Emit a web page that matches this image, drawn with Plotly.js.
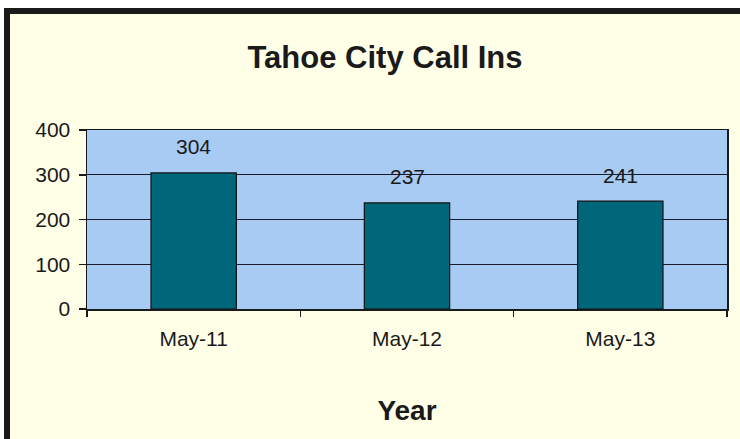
<!DOCTYPE html>
<html>
<head>
<meta charset="utf-8">
<script src="https://cdn.plot.ly/plotly-3.0.1.min.js"></script>
<style>
  html, body { margin: 0; padding: 0; background: #ffffff; overflow: hidden; }
  #frame {
    position: absolute; left: 4px; top: 8px; width: 740px; height: 428px;
    background: #FFFFE8;
    border-left: 6px solid #1a1a1a; border-top: 6px solid #1a1a1a; border-bottom: 3px solid #1a1a1a;
  }
  #chart { position: absolute; left: 0; top: 0; width: 740px; height: 439px; }
</style>
</head>
<body>
<div id="frame"></div>
<div id="chart"></div>
<script>
const categories = ["May-11", "May-12", "May-13"];
const callIns = [304, 237, 241];
const yTicks = [0, 100, 200, 300, 400];

const FONT = "Liberation Sans, Arial, sans-serif";

const trace = {
  type: "bar",
  x: categories,
  y: callIns,
  width: 0.4,
  marker: { color: "#00667A", line: { color: "#111111", width: 1.2 } },
  hoverinfo: "x+y"
};

const labelAnnotations = categories.map((c, i) => ({
  x: c, y: callIns[i], xref: "x", yref: "y",
  text: String(callIns[i]), showarrow: false,
  yshift: 26, yanchor: "middle",
  font: { family: FONT, size: 21, color: "#1a1a1a" }
}));

const layout = {
  width: 740, height: 439,
  margin: { l: 87, r: 13, t: 130, b: 130 },
  paper_bgcolor: "rgba(0,0,0,0)",
  plot_bgcolor: "#A8CBF4",
  showlegend: false,
  font: { family: FONT, color: "#1a1a1a" },
  title: {
    text: "<b>Tahoe City Call Ins</b>",
    x: 385 / 740, xanchor: "center",
    y: 1 - 57 / 439, yanchor: "middle", yref: "container",
    font: { family: FONT, size: 31, color: "#1a1a1a" }
  },
  xaxis: {
    type: "category",
    tickson: "boundaries",
    ticks: "outside", ticklen: 6, tickcolor: "#1a1a1a", tickwidth: 1.5,
    ticklabelstandoff: 10,
    showline: true, linecolor: "#1a1a1a", linewidth: 1.5, mirror: true,
    showgrid: false,
    tickfont: { size: 21, color: "#1a1a1a" },
    title: {
      text: "<b>Year</b>", standoff: 51,
      font: { family: FONT, size: 28, color: "#1a1a1a" }
    }
  },
  yaxis: {
    range: [0, 400],
    tickvals: yTicks,
    ticks: "outside", ticklen: 7, tickcolor: "#1a1a1a", tickwidth: 1.5,
    ticklabelstandoff: 4,
    showline: true, linecolor: "#1a1a1a", linewidth: 1.5, mirror: true,
    showgrid: true, gridcolor: "#1a1a2a", gridwidth: 1,
    zeroline: false,
    tickfont: { size: 21, color: "#1a1a1a" }
  },
  annotations: labelAnnotations
};

Plotly.newPlot("chart", [trace], layout, { displayModeBar: false, staticPlot: true });
</script>
</body>
</html>
